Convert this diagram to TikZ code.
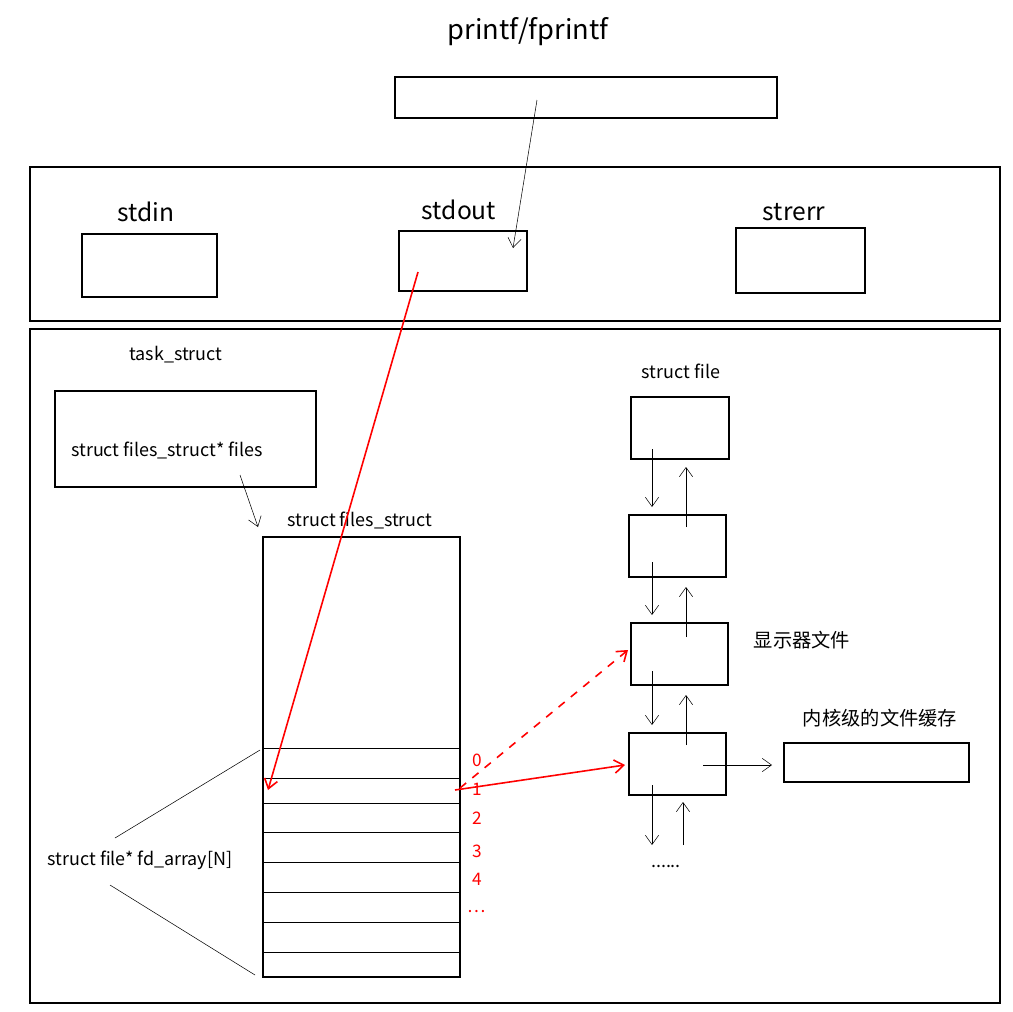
\documentclass[tikz,border=0pt]{standalone}
\usepackage{fontspec}
\setmainfont{Noto Sans CJK SC}
\usetikzlibrary{arrows.meta,positioning}
\tikzset{
    x=0.02646cm,y=-0.02646cm,thick,
    box/.style={draw,line width=1.4pt},
    lbl/.style={inner sep=1pt,font=\fontsize{13.5}{15}\selectfont},
    big/.style={inner sep=1pt,font=\fontsize{18.5}{20}\selectfont},
    num/.style={inner sep=1pt,red,font=\fontsize{13}{14}\selectfont},
    arr/.style={-{Straight Barb[length=7pt,width=10pt]}},
    rarr/.style={arr,red,line width=1.2pt}
}
\begin{document}
\begin{tikzpicture}
    \useasboundingbox (0,0) rectangle (1013,1011);
    % user level
    \node[inner sep=1pt,font=\fontsize{20.5}{22}\selectfont] at (528,32) {printf/fprintf};
    \draw[box] (395,77) rectangle (777,118);
    \draw[box] (30,167) rectangle (1000,321);
    \draw[box] (82,234) rectangle (217,297);
    \draw[box] (399,231) rectangle (527,291);
    \draw[box] (736,228) rectangle (865,293);
    \node[big] at (146,212) {stdin};
    \node[big] at (459,210) {stdout};
    \node[big] at (794,212) {strerr};
    \coordinate (printf) at (537,100);
    \coordinate (stdout) at (513,248);
    \draw[arr] (printf) -- (stdout);
    % kernel
    \draw[box] (30,329) rectangle (1000,1003);
    \node[lbl] at (176,355) {task\_struct};
    \draw[box] (55,391) rectangle (316,487);
    \node[lbl] (files) at (167,450) {struct files\_struct* files};
    \node[lbl] at (360,520) {struct files\_struct};
    \draw[box] (263,537) rectangle (460,977);
    \foreach \y in {748,778,803,832,862,892,922,952}
        \draw (263,\y) -- (460,\y);
    \foreach \n/\y in {0/760,1/789,2/818,3/851,4/879,\dots/912}
        \node[num] at (477,\y) {\n};
    \coordinate (filesend) at (240,475);
    \coordinate (fsroot) at (258,527);
    \draw[arr] (filesend) -- (fsroot);
    \node[lbl] (fdarr) at (140,860) {struct file* fd\_array[N]};
    \draw (115,838) -- (260,750);
    \draw (110,885) -- (255,975);
    % struct file list
    \node[lbl] at (681,371) {struct file};
    \draw[box] (631,397) rectangle (729,459);
    \draw[box] (629,515) rectangle (726,577);
    \draw[box] (631,623) rectangle (728,685);
    \draw[box] (629,733) rectangle (726,795);
    \foreach \a/\b in {449/507,562/615,671/725}
        \draw[arr] (652,\a) -- (652,\b);
    \foreach \a/\b in {527/467,637/587,745/695}
        \draw[arr] (686,\a) -- (686,\b);
    \draw[arr] (652,785) -- (652,845);
    \draw[arr] (683,845) -- (683,802);
    \node[lbl] at (666,866) {......};
    \node[lbl,font=\fontsize{14.5}{16}\selectfont] at (802,640) {显示器文件};
    \node[lbl,font=\fontsize{14.5}{16}\selectfont] at (880,718) {内核级的文件缓存};
    \draw[box] (784,743) rectangle (969,782);
    \coordinate (fileout) at (703,765);
    \coordinate (cache) at (772,765);
    \draw[arr] (fileout) -- (cache);
    % red pointers
    \coordinate (stdoutptr) at (418,272);
    \coordinate (fd1) at (268,790);
    \coordinate (fd1r) at (455,790);
    \draw[rarr] (stdoutptr) -- (fd1);
    \draw[rarr] (fd1r) -- (625,765);
    \draw[rarr,dash pattern=on 6pt off 6pt] (460,788) -- (628,650);
\end{tikzpicture}
\end{document}
